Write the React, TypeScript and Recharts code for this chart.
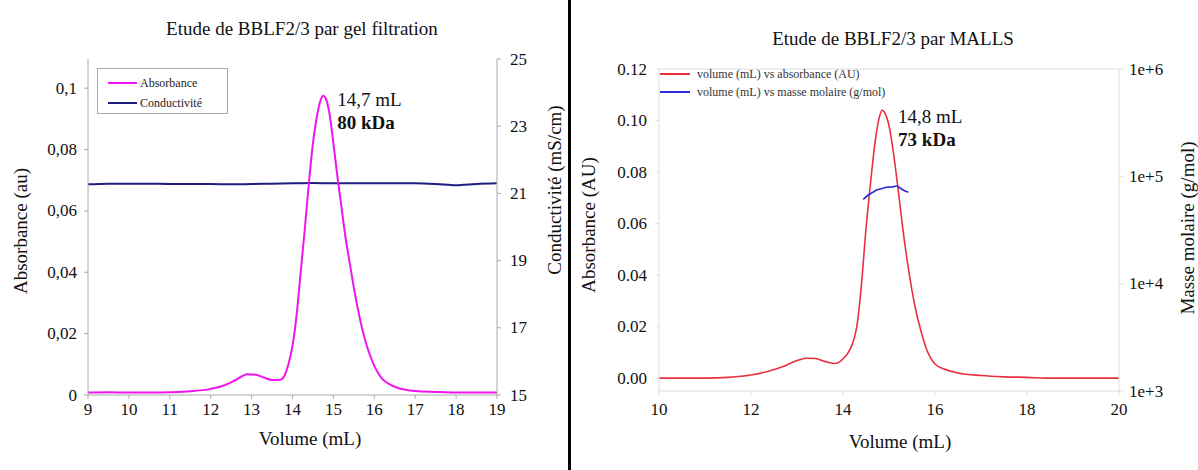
import { Legend, Line, LineChart, ReferenceDot, ReferenceLine, XAxis, YAxis } from 'recharts'

// gel filtration run (left panel)
const gfVolume = [9, 9.5, 10, 10.5, 11, 11.5, 12, 12.3, 12.6, 12.9, 13.1, 13.3, 13.5, 13.7, 13.8, 13.9, 14, 14.1, 14.2, 14.3, 14.4, 14.5, 14.6, 14.7, 14.75, 14.8, 14.9, 15, 15.1, 15.2, 15.3, 15.4, 15.5, 15.6, 15.7, 15.8, 15.9, 16, 16.1, 16.2, 16.4, 16.6, 17, 17.5, 18, 18.5, 19]
const gfAbsorbance = [0.0008, 0.0009, 0.0008, 0.0008, 0.0009, 0.0012, 0.002, 0.003, 0.0048, 0.0068, 0.0066, 0.0057, 0.0049, 0.005, 0.0062, 0.01, 0.016, 0.026, 0.04, 0.054, 0.069, 0.082, 0.091, 0.0965, 0.0975, 0.097, 0.092, 0.082, 0.071, 0.061, 0.051, 0.043, 0.035, 0.028, 0.0218, 0.0168, 0.0128, 0.0095, 0.007, 0.0052, 0.0033, 0.0022, 0.0013, 0.001, 0.0008, 0.0008, 0.0008]
const condVolume = [9, 9.5, 10, 10.5, 11, 11.5, 12, 12.5, 13, 13.5, 14, 14.5, 15, 15.5, 16, 16.5, 17, 17.5, 18, 18.5, 19]
const conductivity = [21.27, 21.29, 21.29, 21.29, 21.28, 21.28, 21.28, 21.27, 21.28, 21.29, 21.3, 21.31, 21.3, 21.3, 21.3, 21.3, 21.3, 21.28, 21.24, 21.28, 21.3]

// MALLS run (right panel)
const mallsVolume = [10, 10.5, 11, 11.5, 12, 12.4, 12.7, 13, 13.2, 13.4, 13.6, 13.8, 13.9, 14, 14.1, 14.2, 14.3, 14.4, 14.5, 14.6, 14.7, 14.8, 14.85, 14.9, 15, 15.1, 15.2, 15.3, 15.4, 15.5, 15.6, 15.7, 15.8, 15.9, 16, 16.2, 16.5, 17, 17.5, 18, 18.5, 20]
const mallsAbsorbance = [0, 0, 0, 0.0003, 0.0012, 0.0028, 0.0045, 0.0068, 0.0077, 0.0076, 0.0065, 0.0057, 0.006, 0.0075, 0.0095, 0.013, 0.02, 0.036, 0.058, 0.076, 0.092, 0.102, 0.104, 0.1032, 0.098, 0.087, 0.073, 0.058, 0.045, 0.034, 0.025, 0.018, 0.012, 0.008, 0.0055, 0.0035, 0.002, 0.001, 0.0005, 0.0003, 0, 0]
const massVolume = [14.44, 14.55, 14.65, 14.73, 14.85, 14.95, 15.05, 15.12, 15.17, 15.24, 15.3, 15.35, 15.42]
const molarMass = [61100, 67000, 71000, 74500, 77000, 79100, 79500, 80500, 81300, 77800, 75000, 73000, 70900]

const gfXTicks = [9, 10, 11, 12, 13, 14, 15, 16, 17, 18, 19]
const gfAbsTicks = [0, 0.02, 0.04, 0.06, 0.08, 0.1]
const gfCondTicks = [15, 17, 19, 21, 23, 25]
const mallsXTicks = [10, 12, 14, 16, 18, 20]
const mallsAbsTicks = [0, 0.02, 0.04, 0.06, 0.08, 0.1, 0.12]
const massTicks = [1000, 10000, 100000, 1000000]

const gfAbsData = gfVolume.map((v, i) => ({ v, y: gfAbsorbance[i] }))
const condData = condVolume.map((v, i) => ({ v, y: conductivity[i] }))
const mallsAbsData = mallsVolume.map((v, i) => ({ v, y: mallsAbsorbance[i] }))
const massData = massVolume.map((v, i) => ({ v, y: molarMass[i] }))

const FONT = '"Liberation Serif", "Times New Roman", serif'

// tick text drawn by hand so the serif face sticks
function makeTick(anchor: 'start' | 'middle' | 'end', fmt: (v: number) => string) {
  return function Tick(props: any) {
    const { x, y, payload } = props
    const baseline = anchor === 'middle' ? 'hanging' : 'central'
    return (
      <text
        x={x}
        y={y}
        textAnchor={anchor}
        dominantBaseline={baseline}
        fill="#111"
        fontSize={17}
        style={{ fontFamily: FONT }}
      >
        {fmt(payload.value)}
      </text>
    )
  }
}

const plain = (v: number) => String(v)
const GfXTick = makeTick('middle', plain)
const GfAbsTick = makeTick('end', (v) => String(v).replace('.', ','))
const GfCondTick = makeTick('start', plain)
const MallsXTick = makeTick('middle', plain)
const MallsAbsTick = makeTick('end', (v) => v.toFixed(2))
const MassTick = makeTick('start', (v) => '1e+' + Math.round(Math.log10(v)))

function PeakNote(props: any) {
  const { viewBox, volume, mass, dx, dy } = props
  if (!viewBox) return null
  const x = viewBox.x + (viewBox.width || 0) / 2 + dx
  const y = viewBox.y + (viewBox.height || 0) / 2 + dy
  return (
    <g fontSize={19} fill="#111" style={{ fontFamily: FONT }}>
      <text x={x} y={y} dominantBaseline="central">{volume}</text>
      <text x={x} y={y + 23} dominantBaseline="central" fontWeight="bold">{mass}</text>
    </g>
  )
}

function GfLegend() {
  const rows = [
    { name: 'Absorbance', color: '#f015f0' },
    { name: 'Conductivité', color: '#1e1e7e' }
  ]
  return (
    <div style={{ border: '1px solid #aaa', background: '#fff', width: 131, height: 46, boxSizing: 'border-box', padding: '4px 0 0 10px', fontFamily: FONT, fontSize: 12, color: '#222' }}>
      {rows.map((r) => (
        <div key={r.name} style={{ display: 'flex', alignItems: 'center', height: 20 }}>
          <span style={{ width: 29, height: 2, background: r.color, marginRight: 3 }} />
          {r.name}
        </div>
      ))}
    </div>
  )
}

function MallsLegend() {
  const rows = [
    { name: 'volume (mL) vs absorbance (AU)', color: '#e8303f' },
    { name: 'volume (mL) vs masse molaire (g/mol)', color: '#2b2bd8' }
  ]
  return (
    <div style={{ fontFamily: FONT, fontSize: 12, color: '#333' }}>
      {rows.map((r) => (
        <div key={r.name} style={{ display: 'flex', alignItems: 'center', height: 18 }}>
          <span style={{ width: 30, height: 2, background: r.color, marginRight: 7 }} />
          {r.name}
        </div>
      ))}
    </div>
  )
}

function Caption({ x, y, text, size = 19, rotate = false }: { x: number; y: number; text: string; size?: number; rotate?: boolean }) {
  return (
    <div
      style={{
        position: 'absolute',
        left: x,
        top: y,
        transform: `translate(-50%, -50%)${rotate ? ' rotate(-90deg)' : ''}`,
        whiteSpace: 'nowrap',
        fontFamily: FONT,
        fontSize: size,
        color: '#111',
        lineHeight: 1
      }}
    >
      {text}
    </div>
  )
}

export default function App() {
  return (
    <div style={{ position: 'fixed', left: 0, top: 0, width: 1198, height: 470, background: '#fff', overflow: 'hidden', fontFamily: FONT }}>
      <div style={{ position: 'absolute', left: 0, top: 0 }}>
        <LineChart width={570} height={470} margin={{ top: 59, right: 0, bottom: 0, left: 0 }}>
          <XAxis
            type="number"
            dataKey="v"
            domain={[9, 19]}
            ticks={gfXTicks}
            allowDataOverflow
            height={75}
            stroke="#aaa"
            tick={<GfXTick />}
            tickSize={4}
            tickMargin={4}
          />
          <YAxis
            yAxisId="abs"
            domain={[0, 0.1095]}
            ticks={gfAbsTicks}
            allowDataOverflow
            width={88}
            stroke="#aaa"
            tick={<GfAbsTick />}
            tickSize={4}
            tickMargin={7}
          />
          <YAxis
            yAxisId="cond"
            orientation="right"
            domain={[15, 25]}
            ticks={gfCondTicks}
            allowDataOverflow
            width={73}
            stroke="#aaa"
            tick={<GfCondTick />}
            tickSize={4}
            tickMargin={9}
          />
          <Legend
            layout="vertical"
            align="center"
            verticalAlign="middle"
            content={() => <GfLegend />}
            wrapperStyle={{ left: 97, top: 68, width: 131, height: 46 }}
          />
          <Line
            yAxisId="cond"
            data={condData}
            dataKey="y"
            type="monotone"
            stroke="#1e1e7e"
            strokeWidth={2}
            dot={false}
            isAnimationActive={false}
          />
          <Line
            yAxisId="abs"
            data={gfAbsData}
            dataKey="y"
            type="monotone"
            stroke="#f015f0"
            strokeWidth={2}
            dot={false}
            isAnimationActive={false}
          />
          <ReferenceDot
            yAxisId="abs"
            x={14.75}
            y={0.0975}
            r={1}
            fill="none"
            stroke="none"
            label={<PeakNote volume="14,7 mL" mass="80 kDa" dx={14} dy={4} />}
          />
        </LineChart>
        <Caption x={302} y={28} text="Etude de BBLF2/3 par gel filtration" size={19} />
        <Caption x={310} y={438} text="Volume (mL)" />
        <Caption x={20} y={231} text="Absorbance (au)" rotate />
        <Caption x={554} y={190} text="Conductivité (mS/cm)" rotate />
      </div>

      <div style={{ position: 'absolute', left: 568, top: 0, width: 3, height: 470, background: '#000' }} />

      <div style={{ position: 'absolute', left: 570, top: 0 }}>
        <LineChart width={628} height={470} margin={{ top: 69, right: 0, bottom: 0, left: 0 }}>
          <XAxis
            type="number"
            dataKey="v"
            domain={[10, 20]}
            ticks={mallsXTicks}
            allowDataOverflow
            height={79}
            stroke="#ddd"
            tick={<MallsXTick />}
            tickSize={4}
            tickMargin={8}
          />
          <YAxis
            yAxisId="abs"
            domain={[-0.005, 0.12]}
            ticks={mallsAbsTicks}
            allowDataOverflow
            width={89}
            stroke="#ddd"
            tick={<MallsAbsTick />}
            tickSize={4}
            tickMargin={8}
          />
          <YAxis
            yAxisId="mass"
            orientation="right"
            scale="log"
            domain={[1000, 1000000]}
            ticks={massTicks}
            allowDataOverflow
            width={79}
            stroke="#ddd"
            tick={<MassTick />}
            tickSize={4}
            tickMargin={6}
          />
          <ReferenceLine yAxisId="abs" y={0.12} stroke="#ddd" />
          <Legend
            layout="vertical"
            align="center"
            verticalAlign="middle"
            content={() => <MallsLegend />}
            wrapperStyle={{ left: 90, top: 65, width: 260, height: 36 }}
          />
          <Line
            yAxisId="abs"
            data={mallsAbsData}
            dataKey="y"
            type="monotone"
            stroke="#e8303f"
            strokeWidth={1.6}
            dot={false}
            isAnimationActive={false}
          />
          <Line
            yAxisId="mass"
            data={massData}
            dataKey="y"
            type="monotone"
            stroke="#2b2bd8"
            strokeWidth={1.6}
            dot={false}
            isAnimationActive={false}
          />
          <ReferenceDot
            yAxisId="abs"
            x={14.85}
            y={0.104}
            r={1}
            fill="none"
            stroke="none"
            label={<PeakNote volume="14,8 mL" mass="73 kDa" dx={16} dy={6} />}
          />
        </LineChart>
        <Caption x={323} y={38} text="Etude de BBLF2/3 par MALLS" size={19} />
        <Caption x={330} y={441} text="Volume (mL)" />
        <Caption x={18} y={225} text="Absorbance (AU)" rotate />
        <Caption x={617} y={228} text="Masse molaire (g/mol)" rotate />
      </div>
    </div>
  )
}
